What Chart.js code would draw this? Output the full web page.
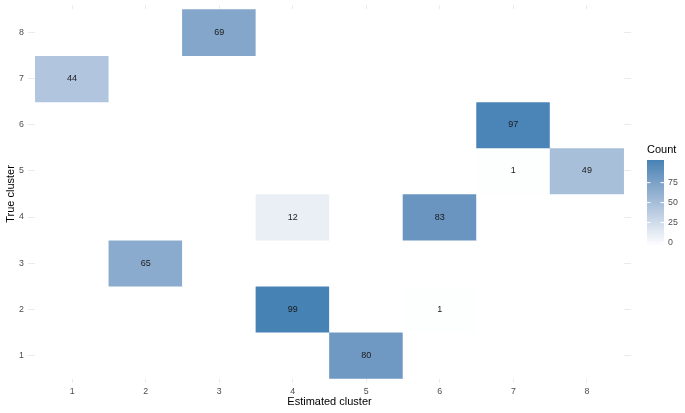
<!DOCTYPE html>
<html>
<head>
<meta charset="utf-8">
<script src="https://cdn.jsdelivr.net/npm/chart.js@4"></script>
<style>
  html, body { margin: 0; padding: 0; background: #ffffff; }
  canvas { display: block; }
</style>
</head>
<body>
<canvas id="heatmap" width="685" height="413"></canvas>
<script>
// Axis categories
const estimatedClusters = [1, 2, 3, 4, 5, 6, 7, 8];
const trueClusters = [1, 2, 3, 4, 5, 6, 7, 8];

// counts[true - 1][estimated - 1]
const counts = [
  [0, 0, 0, 0, 80, 0, 0, 0],
  [0, 0, 0, 99, 0, 1, 0, 0],
  [0, 65, 0, 0, 0, 0, 0, 0],
  [0, 0, 0, 12, 0, 83, 0, 0],
  [0, 0, 0, 0, 0, 0, 1, 49],
  [0, 0, 0, 0, 0, 0, 97, 0],
  [44, 0, 0, 0, 0, 0, 0, 0],
  [0, 0, 69, 0, 0, 0, 0, 0],
];

const legendTicks = [0, 25, 50, 75];

const FONT = "'Liberation Sans', Arial, sans-serif";
const maxCount = Math.max(...counts.flat());

// white -> steelblue, interpolated in Lab like ggplot's scale_fill_gradient
function toLinear(c) {
  c /= 255;
  return c <= 0.04045 ? c / 12.92 : Math.pow((c + 0.055) / 1.055, 2.4);
}
function fromLinear(c) {
  const v = c <= 0.0031308 ? 12.92 * c : 1.055 * Math.pow(c, 1 / 2.4) - 0.055;
  return Math.round(Math.min(1, Math.max(0, v)) * 255);
}
const WN = [0.95047, 1, 1.08883];
function rgbToLab([r, g, b]) {
  r = toLinear(r); g = toLinear(g); b = toLinear(b);
  const xyz = [
    0.4124564 * r + 0.3575761 * g + 0.1804375 * b,
    0.2126729 * r + 0.7151522 * g + 0.072175 * b,
    0.0193339 * r + 0.119192 * g + 0.9503041 * b,
  ];
  const f = xyz.map((v, i) => {
    const t = v / WN[i];
    return t > 0.008856 ? Math.cbrt(t) : 7.787 * t + 16 / 116;
  });
  return [116 * f[1] - 16, 500 * (f[0] - f[1]), 200 * (f[1] - f[2])];
}
function labToRgb([L, a, b]) {
  const fy = (L + 16) / 116;
  const fx = fy + a / 500;
  const fz = fy - b / 200;
  const inv = (t) => (t * t * t > 0.008856 ? t * t * t : (t - 16 / 116) / 7.787);
  const X = inv(fx) * WN[0], Y = inv(fy) * WN[1], Z = inv(fz) * WN[2];
  const r = 3.2404542 * X - 1.5371385 * Y - 0.4985314 * Z;
  const g = -0.969266 * X + 1.8760108 * Y + 0.041556 * Z;
  const bb = 0.0556434 * X - 0.2040259 * Y + 1.0572252 * Z;
  return [fromLinear(r), fromLinear(g), fromLinear(bb)];
}
const LOW = rgbToLab([255, 255, 255]);
const HIGH = rgbToLab([70, 130, 180]);
function fillFor(v) {
  const t = v / maxCount;
  const lab = LOW.map((l, i) => l + (HIGH[i] - l) * t);
  const [r, g, b] = labToRgb(lab);
  return `rgb(${r},${g},${b})`;
}

// one tile per (estimated, true) pair
const cells = [];
trueClusters.forEach((tc, i) => {
  estimatedClusters.forEach((ec, j) => {
    cells.push({ x: ec, y: [tc - 0.5, tc + 0.5], count: counts[i][j] });
  });
});

const cellLabels = {
  id: "cellLabels",
  afterDatasetsDraw(chart) {
    const ctx = chart.ctx;
    const meta = chart.getDatasetMeta(0);
    ctx.save();
    ctx.font = `9px ${FONT}`;
    ctx.fillStyle = "#1a1a1a";
    ctx.textAlign = "center";
    ctx.textBaseline = "middle";
    meta.data.forEach((bar, i) => {
      const c = cells[i];
      if (!c.count) return;
      const p = bar.getCenterPoint();
      ctx.fillText(String(c.count), p.x, p.y);
    });
    ctx.restore();
  },
};

const colourBar = {
  id: "colourBar",
  afterDraw(chart) {
    const ctx = chart.ctx;
    const x = chart.chartArea.right + 16;
    const w = 17;
    const top = 160;
    const bottom = 246;
    const inset = 3.5;
    const grad = ctx.createLinearGradient(0, bottom, 0, top);
    for (let k = 0; k <= 20; k++) {
      grad.addColorStop(k / 20, fillFor((k / 20) * maxCount));
    }
    ctx.save();
    ctx.fillStyle = grad;
    ctx.fillRect(x, top, w, bottom - top);

    ctx.fillStyle = "#000000";
    ctx.font = `11px ${FONT}`;
    ctx.textAlign = "left";
    ctx.textBaseline = "middle";
    ctx.fillText("Count", x, 150);

    ctx.font = `8.8px ${FONT}`;
    ctx.strokeStyle = "#ffffff";
    ctx.lineWidth = 1;
    legendTicks.forEach((v) => {
      const y = bottom - inset - (v / maxCount) * (bottom - top - 2 * inset);
      ctx.beginPath();
      ctx.moveTo(x, y);
      ctx.lineTo(x + 3.5, y);
      ctx.moveTo(x + w - 3.5, y);
      ctx.lineTo(x + w, y);
      ctx.stroke();
      ctx.fillStyle = "#4d4d4d";
      ctx.fillText(String(v), x + w + 4, y);
    });
    ctx.restore();
  },
};

const tickFont = { family: FONT, size: 8.8 };
const titleFont = { family: FONT, size: 11 };

// no label-driven padding, so the panel keeps its own edges
function noPad(s) {
  s.paddingTop = 0;
  s.paddingBottom = 0;
  s.paddingLeft = 0;
  s.paddingRight = 0;
}

new Chart(document.getElementById("heatmap").getContext("2d"), {
  type: "bar",
  data: {
    datasets: [
      {
        data: cells,
        backgroundColor: cells.map((c) => fillFor(c.count)),
        borderWidth: 0,
        barPercentage: 1,
        categoryPercentage: 1,
      },
    ],
  },
  options: {
    responsive: false,
    animation: false,
    layout: { padding: { top: 5, right: 54, left: 0, bottom: 0 } },
    plugins: {
      legend: { display: false },
      tooltip: { enabled: false },
    },
    scales: {
      x: {
        type: "linear",
        min: 0.4,
        max: 8.6,
        offset: false,
        afterBuildTicks: (s) => {
          s.ticks = estimatedClusters.map((v) => ({ value: v }));
        },
        afterFit: (s) => {
          s.height = 30;
          noPad(s);
        },
        grid: { color: "#ebebeb", drawTicks: false, lineWidth: 1, offset: false },
        border: { display: false },
        ticks: { padding: 3, color: "#4d4d4d", font: tickFont },
        title: {
          display: true,
          text: "Estimated cluster",
          color: "#000000",
          font: titleFont,
          padding: { top: 0, bottom: 4 },
        },
      },
      y: {
        type: "linear",
        min: 0.4,
        max: 8.6,
        afterBuildTicks: (s) => {
          s.ticks = trueClusters.map((v) => ({ value: v }));
        },
        afterFit: (s) => {
          s.width = 28;
          noPad(s);
        },
        grid: { color: "#ebebeb", drawTicks: false, lineWidth: 1 },
        border: { display: false },
        ticks: { padding: 4, color: "#4d4d4d", font: tickFont },
        title: {
          display: true,
          text: "True cluster",
          color: "#000000",
          font: titleFont,
          padding: { top: 4, bottom: 0 },
        },
      },
    },
  },
  plugins: [cellLabels, colourBar],
});
</script>
</body>
</html>
